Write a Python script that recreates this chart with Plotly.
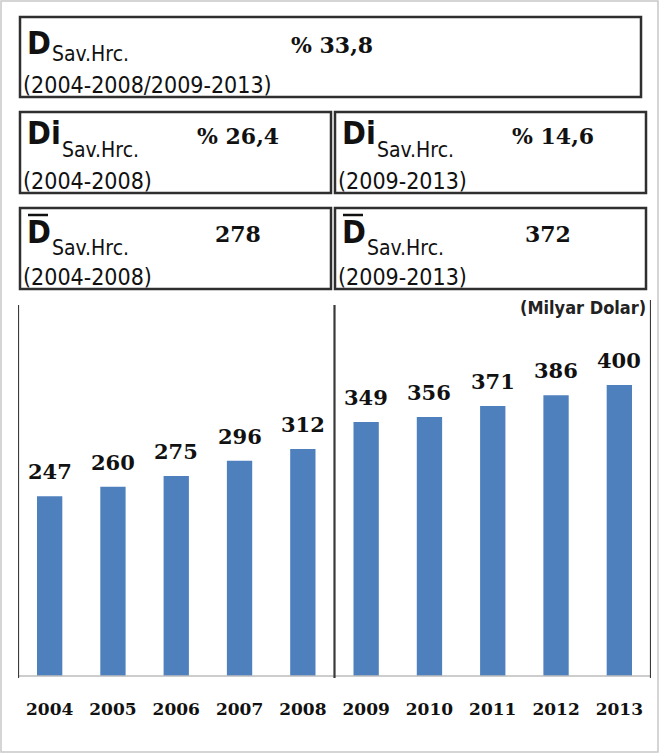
import plotly.graph_objects as go

years = ["2004", "2005", "2006", "2007", "2008", "2009", "2010", "2011", "2012", "2013"]
values = [247, 260, 275, 296, 312, 349, 356, 371, 386, 400]

unit_label = "(Milyar Dolar)"
sub_label = "Sav.Hrc."
top_period = "(2004-2008/2009-2013)"
period_a = "(2004-2008)"
period_b = "(2009-2013)"
growth_total = "% 33,8"
growth_a = "% 26,4"
growth_b = "% 14,6"
mean_a = "278"
mean_b = "372"

W, H = 662, 756
L, R, T, B = 18, 11, 305, 80
PW = W - L - R
PH = H - T - B

def px(x):
    return (x - L) / PW

def py(y):
    return (H - B - y) / PH

BAR = "#4F80BE"
DARK = "#2f2f2f"
NUMFONT = "DejaVu Serif, serif"
SANS = "DejaVu Sans Condensed, Liberation Sans Narrow, Liberation Sans, sans-serif"

fig = go.Figure(go.Bar(x=years, y=values, marker=dict(color=BAR, line=dict(width=0)),
                       width=0.4, hoverinfo="x+y"))

annotations = []
for i, v in enumerate(values):
    annotations.append(dict(x=i, y=v, xref="x", yref="y", text=str(v), showarrow=False,
                            yanchor="bottom", yshift=10,
                            font=dict(family=NUMFONT, size=21, color="#111", weight="bold")))

annotations.append(dict(x=px(648), y=py(307), xref="paper", yref="paper", text=unit_label,
                        showarrow=False, xanchor="right", yanchor="middle",
                        font=dict(family=SANS, size=18, color="#222", weight="bold")))

def label_block(dx, yd, ys, yp, big, sub_x, period, value, vx, vy):
    annotations.append(dict(x=px(25 + dx), y=py(yd), xref="paper", yref="paper", text=big,
                            showarrow=False, xanchor="left", yanchor="middle",
                            font=dict(family=SANS, size=32, color="#111", weight="bold")))
    annotations.append(dict(x=px(sub_x + dx), y=py(ys), xref="paper", yref="paper", text=sub_label,
                            showarrow=False, xanchor="left", yanchor="middle",
                            font=dict(family=SANS, size=21, color="#111")))
    annotations.append(dict(x=px(21 + dx), y=py(yp), xref="paper", yref="paper", text=period,
                            showarrow=False, xanchor="left", yanchor="middle",
                            font=dict(family=SANS, size=23, color="#111")))
    annotations.append(dict(x=px(vx), y=py(vy), xref="paper", yref="paper", text=value,
                            showarrow=False, xanchor="left", yanchor="middle",
                            font=dict(family=NUMFONT, size=22, color="#111", weight="bold")))

label_block(0, 43, 54, 85, "D", 50, top_period, growth_total, 289, 45)
label_block(0, 133, 150, 181, "Di", 60, period_a, growth_a, 195, 136)
label_block(315, 133, 150, 181, "Di", 60, period_b, growth_b, 510, 136)
label_block(0, 232, 248, 277, "D", 50, period_a, mean_a, 213, 234)
label_block(315, 232, 248, 277, "D", 50, period_b, mean_b, 523, 234)

shapes = []
def box(x0, y0, x1, y1):
    shapes.append(dict(type="rect", xref="paper", yref="paper", x0=px(x0), x1=px(x1),
                       y0=py(y1), y1=py(y0), line=dict(color=DARK, width=2.5)))

box(20, 17, 641, 97)
box(20, 112, 331, 193)
box(335, 112, 646, 193)
box(20, 208, 331, 289)
box(335, 208, 646, 289)

for x0 in (28, 343):
    shapes.append(dict(type="line", xref="paper", yref="paper", x0=px(x0), x1=px(x0 + 20),
                       y0=py(215), y1=py(215), line=dict(color="#111", width=2.5)))

shapes.append(dict(type="rect", xref="paper", yref="paper", x0=px(1), x1=px(658),
                   y0=py(752), y1=py(1), line=dict(color="#c8c8c8", width=1.5)))

shapes.append(dict(type="line", xref="x", yref="paper", x0=-0.5, x1=9.5, y0=0, y1=0,
                   line=dict(color="#bdbdbd", width=1.5)))
for xv, ytop in ((-0.5, 1.0), (4.5, 1.0), (9.5, py(300))):
    shapes.append(dict(type="line", xref="x", yref="paper", x0=xv, x1=xv, y0=py(678), y1=ytop,
                       line=dict(color="#3a3a3a", width=2.2)))

fig.update_layout(
    width=W, height=H,
    margin=dict(l=L, r=R, t=T, b=B),
    paper_bgcolor="white", plot_bgcolor="white",
    showlegend=False,
    annotations=annotations,
    shapes=shapes,
    xaxis=dict(type="category", showgrid=False, zeroline=False, showline=False, ticks="",
               tickfont=dict(family=NUMFONT, size=17, color="#111", weight="bold"),
               ticklabelstandoff=21, range=[-0.5, 9.5]),
    yaxis=dict(range=[0, 510], showgrid=False, zeroline=False, showline=False,
               showticklabels=False, ticks=""),
)

fig.write_html("out.html", config={"displayModeBar": False},
               post_script="document.body.style.margin='0';")
